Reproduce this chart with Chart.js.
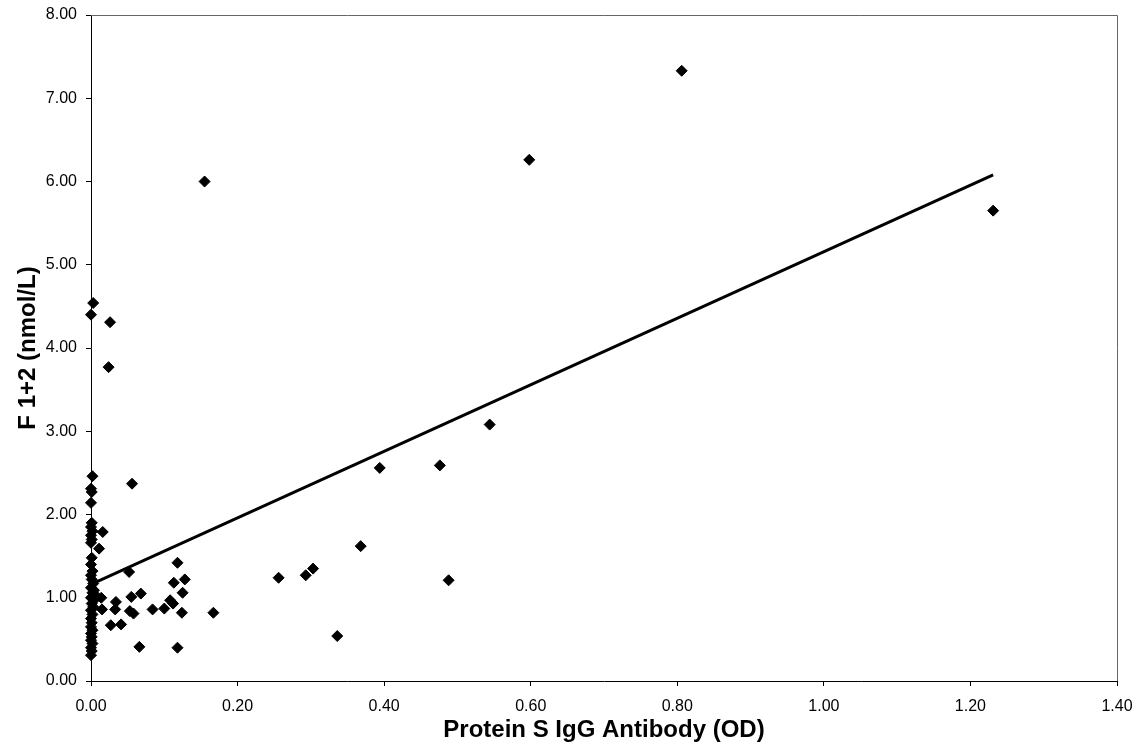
<!DOCTYPE html>
<html>
<head>
<meta charset="utf-8">
<script src="https://cdn.jsdelivr.net/npm/chart.js@4/dist/chart.umd.min.js"></script>
<style>
  html, body { margin: 0; padding: 0; background: #fff; }
  #wrap { width: 1139px; height: 748px; }
</style>
</head>
<body>
<div id="wrap"><canvas id="chart" width="1139" height="748"></canvas></div>
<script>
// Protein S IgG antibody (OD) vs F 1+2 (nmol/L)
const antibodyOD = [
  0, 0.003, 0.002, 0, 0.001, 0, 0.001, 0, 0.002, 0, 0.001, 0, 0.001, 0, 0.002, 0,
  0.001, 0.003, 0, 0.004, 0.002, 0.006, 0, 0.004, 0.001, 0.003, 0, 0.002, 0, 0.001,
  0, 0.002, 0, 0.001, 0, 0.002, 0, 0.001, 0,
  0.016, 0.011, 0.026, 0.024, 0.056, 0.052, 0.014, 0.015, 0.027, 0.041, 0.034, 0.033,
  0.055, 0.053, 0.058, 0.068, 0.066, 0.084, 0.100, 0.108, 0.112, 0.113, 0.118, 0.128,
  0.125, 0.124, 0.118, 0.167, 0.155, 0.256, 0.293, 0.303, 0.336, 0.368, 0.394, 0.476,
  0.488, 0.544, 0.598, 0.806, 1.231
];
const f12 = [
  4.40, 4.54, 2.46, 2.31, 2.27, 2.14, 1.90, 1.85, 1.80, 1.75, 1.70, 1.66, 1.48, 1.40, 1.32, 1.27,
  1.22, 1.17, 1.12, 1.09, 1.06, 1.03, 1.00, 0.97, 0.93, 0.89, 0.85, 0.80, 0.75, 0.70,
  0.65, 0.61, 0.57, 0.53, 0.49, 0.45, 0.40, 0.36, 0.31,
  1.79, 1.59, 4.31, 3.77, 2.37, 1.31, 1.00, 0.86, 0.67, 0.68, 0.95, 0.86,
  1.01, 0.84, 0.81, 1.05, 0.41, 0.86, 0.87, 0.97, 0.93, 1.18, 1.42, 1.22,
  1.06, 0.82, 0.40, 0.82, 6.00, 1.24, 1.27, 1.35, 0.54, 1.62, 2.56, 2.59,
  1.21, 3.08, 6.26, 7.33, 5.65
];

// linear trendline end points
const trendX = [0, 1.231];
const trendY = [1.16, 6.08];

const xTicks = { min: 0, max: 1.4, step: 0.2 };
const yTicks = { min: 0, max: 8, step: 1 };

const points = antibodyOD.map((x, i) => ({ x: x, y: f12[i] }));
const trend = trendX.map((x, i) => ({ x: x, y: trendY[i] }));

// gray frame on top and right of the plot
const framePlugin = {
  id: 'frame',
  afterDraw(chart) {
    const { ctx, chartArea: a } = chart;
    ctx.save();
    ctx.strokeStyle = '#666';
    ctx.lineWidth = 1;
    ctx.beginPath();
    ctx.moveTo(a.left, a.top + 0.5);
    ctx.lineTo(a.right + 0.5, a.top + 0.5);
    ctx.lineTo(a.right + 0.5, a.bottom);
    ctx.stroke();
    ctx.restore();
  }
};

const tickFont = { family: 'Arial, "Liberation Sans", sans-serif', size: 16 };
const titleFont = { family: 'Arial, "Liberation Sans", sans-serif', size: 24, weight: 'bold' };

new Chart(document.getElementById('chart'), {
  type: 'scatter',
  data: {
    datasets: [
      {
        label: 'F 1+2',
        data: points,
        pointStyle: 'rectRot',
        pointRadius: 5.5,
        backgroundColor: '#000',
        borderColor: '#000',
        borderWidth: 1,
        clip: false
      },
      {
        type: 'line',
        label: 'Linear',
        data: trend,
        borderColor: '#000',
        borderWidth: 3,
        pointRadius: 0,
        fill: false
      }
    ]
  },
  options: {
    responsive: false,
    animation: false,
    layout: { padding: { top: 15, right: 22, bottom: 0, left: 0 } },
    plugins: { legend: { display: false }, tooltip: { enabled: false } },
    scales: {
      x: {
        type: 'linear',
        min: xTicks.min,
        max: xTicks.max,
        afterFit(s) {
          s.height = 67;
          s.paddingLeft = 0;
          s.paddingRight = 0;
        },
        grid: { drawOnChartArea: false, drawTicks: true, tickLength: 5, color: '#000' },
        border: { display: true, color: '#000', width: 1 },
        ticks: {
          stepSize: xTicks.step,
          padding: 11,
          color: '#000',
          font: tickFont,
          maxRotation: 0,
          callback: v => Number(v).toFixed(2)
        },
        title: {
          display: true,
          text: 'Protein S IgG Antibody (OD)',
          color: '#000',
          font: titleFont,
          padding: { top: 0, bottom: 3 }
        }
      },
      y: {
        type: 'linear',
        min: yTicks.min,
        max: yTicks.max,
        afterFit(s) {
          s.width = 91;
          s.paddingTop = 0;
          s.paddingBottom = 0;
        },
        grid: { drawOnChartArea: false, drawTicks: true, tickLength: 5, color: '#000' },
        border: { display: true, color: '#000', width: 1 },
        ticks: {
          stepSize: yTicks.step,
          padding: 9,
          color: '#000',
          font: tickFont,
          callback: v => Number(v).toFixed(2)
        },
        title: {
          display: true,
          text: 'F 1+2 (nmol/L)',
          color: '#000',
          font: titleFont,
          padding: { top: 14, bottom: 0 }
        }
      }
    }
  },
  plugins: [framePlugin]
});
</script>
</body>
</html>
